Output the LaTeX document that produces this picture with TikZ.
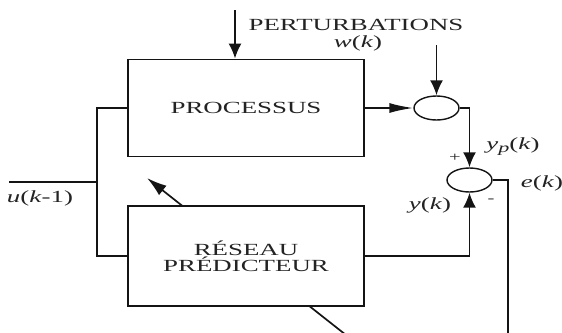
\documentclass[tikz,border=0pt]{standalone}
\usepackage{fontspec}
\setmainfont{Liberation Serif}[FakeStretch=1.58]
\usepackage{tikz}
\usetikzlibrary{arrows.meta,positioning,shapes.geometric,calc}
\definecolor{linegray}{RGB}{20,20,20}
\definecolor{textgray}{RGB}{35,35,35}
\tikzset{
  blockbox/.style={draw=linegray,line width=1.8pt,fill=white,minimum width=236pt,
    align=center,inner sep=2pt,text=textgray,font=\fontsize{17}{16}\selectfont},
  sumnode/.style={draw=linegray,ellipse,line width=1.4pt,fill=white,minimum width=45pt,
    minimum height=24pt,inner sep=0pt},
  sigline/.style={line width=1.7pt,draw=linegray},
  vsig/.style={sigline,-{Latex[length=15pt,width=13pt]}},
  hsig/.style={sigline,-{Latex[length=24pt,width=10pt]}},
  adaptarrow/.style={sigline,-{Latex[length=20pt,width=12pt]}},
  siglabel/.style={text=textgray,inner sep=0pt,font=\fontsize{17}{16}\selectfont},
  signnote/.style={text=textgray,inner sep=0pt,font=\fontsize{13}{13}\selectfont}
}
\begin{document}
\begin{tikzpicture}[x=1pt,y=-1pt]
  \path[use as bounding box] (0,0) rectangle (562,332);
  \clip (0,0) rectangle (562,332);
  \coordinate (adtail) at (346,335);
  \coordinate (adtip) at (147,178);
  \draw[adaptarrow] (adtail) -- (adtip);
  \node[blockbox,minimum height=97pt] (proc) at (246,108) {PROCESSUS};
  \node[blockbox,minimum height=100pt] (pred) at (246,256) {RÉSEAU\\PRÉDICTEUR};
  \node[sumnode] (sum1) at (436.5,108) {};
  \node[sumnode] (sum2) at (469.5,180) {};
  \coordinate (pin) at (235,10);
  \coordinate (win) at (436.5,45);
  \coordinate (uin) at (9,182);
  \coordinate (split) at (97,182);
  \coordinate (eout) at (508,340);
  \draw[vsig] (pin) -- (pin |- proc.north);
  \draw[vsig] (win) -- (sum1.north);
  \draw[hsig] (proc.east) -- (sum1.west);
  \draw[vsig] (sum1.east) -| (sum2.north);
  \draw[vsig] (pred.east) -| (sum2.south);
  \draw[sigline] (sum2.east) -| (eout);
  \draw[sigline] (uin) -- (split);
  \draw[sigline] (proc.west) -| (split) |- (pred.west);
  \node[siglabel] (pertlbl) at (356,25) {PERTURBATIONS};
  \node[siglabel] (wlbl) at (358,43) {\textit{w}(\textit{k})};
  \node[siglabel] (yplbl) at (513,147) {\textit{y}\raisebox{-3pt}{\fontsize{14}{14}\selectfont\textit{p}}(\textit{k})};
  \node[siglabel] (ylbl) at (430,205) {\textit{y}(\textit{k})};
  \node[siglabel] (elbl) at (542,183) {\textit{e}(\textit{k})};
  \node[siglabel] (ulbl) at (40,198) {\textit{u}(\textit{k}-1)};
  \node[signnote] (plus) at (455,158) {+};
  \node[signnote] (minus) at (491,201) {-};
\end{tikzpicture}
\end{document}
